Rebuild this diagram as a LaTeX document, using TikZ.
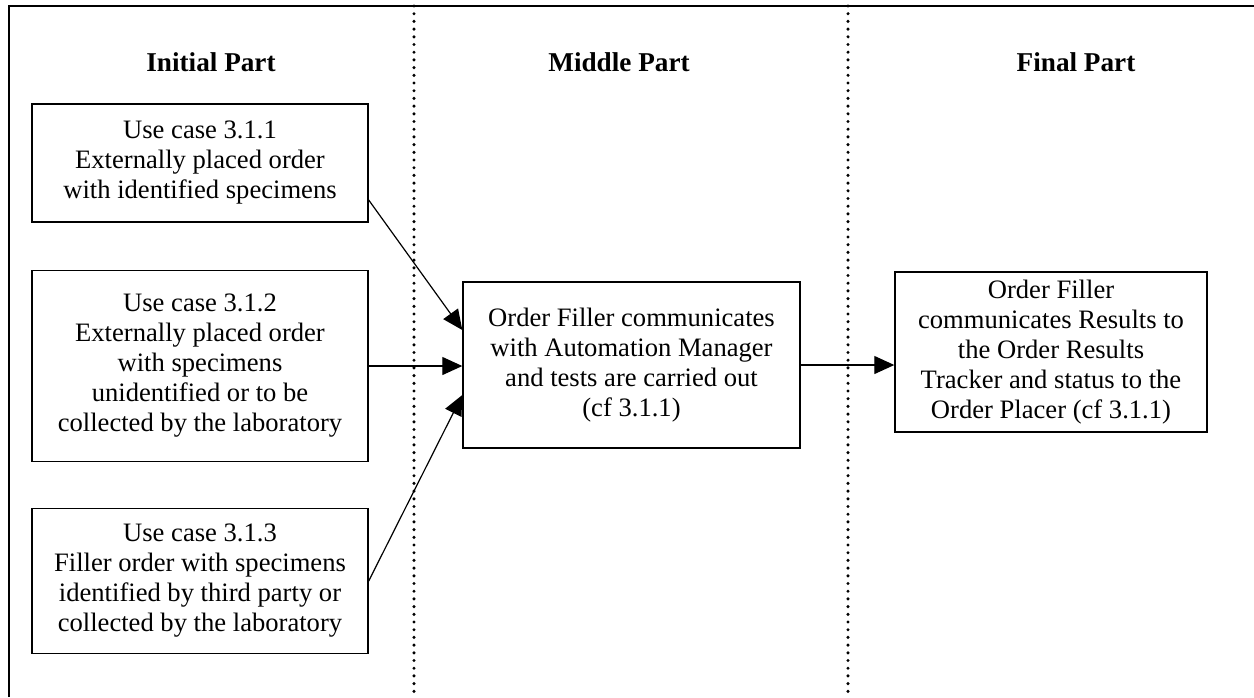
\documentclass[tikz,border=0pt]{standalone}
\usepackage{fontspec}
\setmainfont{Liberation Serif}
\usetikzlibrary{arrows.meta}
\begin{document}
\begin{tikzpicture}[x=0.5pt, y=-0.5pt, >={Triangle[length=10pt,width=9pt]},
	usecase/.style={draw, line width=0.7pt, align=center, inner sep=0pt,
		font=\fontsize{13.3}{15}\selectfont},
	header/.style={font=\fontsize{13.6}{15}\selectfont\bfseries},
	divider/.style={line width=1.7pt, line cap=round, dash pattern=on 0pt off 3.85pt}]
			\useasboundingbox (0,0) rectangle (1254,697);
			% coordinates
			\coordinate (BL) at (9,697);
			\coordinate (TL) at (9,6);
			\coordinate (TR) at (1254,6);
			\coordinate (D1) at (414,6);
			\coordinate (D2) at (848,6);
			% frame
			\draw[line width=1.1pt] (BL) -- (TL) -- (TR);
			% dotted dividers
			\draw[divider] (D1) -- (D1 |- BL);
			\draw[divider] (D2) -- (D2 |- BL);
			% column headers
			\node[header] (hInit) at (211,62) {Initial Part};
			\node[header] (hMid) at (619,62) {Middle Part};
			\node[header] (hFin) at (1076,62) {Final Part};
			% use cases
			\node[usecase, minimum width=168pt, minimum height=59pt] (uc1) at (200,163)
				{Use case 3.1.1\\Externally placed order\\with identified specimens};
			\node[usecase, minimum width=168pt, minimum height=95.5pt] (uc2) at (200,366)
				{Use case 3.1.2\\Externally placed order\\with specimens\\unidentified or to be\\collected by the laboratory};
			\node[usecase, minimum width=168pt, minimum height=72.5pt] (uc3) at (200,581)
				{Use case 3.1.3\\Filler order with specimens\\identified by third party or\\collected by the laboratory};
			% middle and final steps
			\node[usecase, minimum width=168.5pt, minimum height=83pt] (mid) at (631.5,365)
				{Order Filler communicates\\with Automation Manager\\and tests are carried out\\(cf 3.1.1)};
			\node[usecase, minimum width=156pt, minimum height=80pt] (fin) at (1051,352)
				{Order Filler\\communicates Results to\\the Order Results\\Tracker and status to the\\Order Placer (cf 3.1.1)};
			% arrows
			\draw[->, line width=0.6pt] ([yshift=-18.5pt]uc1.east) -- ([yshift=17.5pt]mid.west);
			\draw[->, line width=0.6pt] (uc2.east) -- (uc2.east -| mid.west);
			\draw[->, line width=0.6pt] (uc3.east) -- ([yshift=-15pt]mid.west);
			\draw[->, line width=0.6pt] (mid.east) -- (mid.east -| fin.west);
		\end{tikzpicture}
\end{document}
